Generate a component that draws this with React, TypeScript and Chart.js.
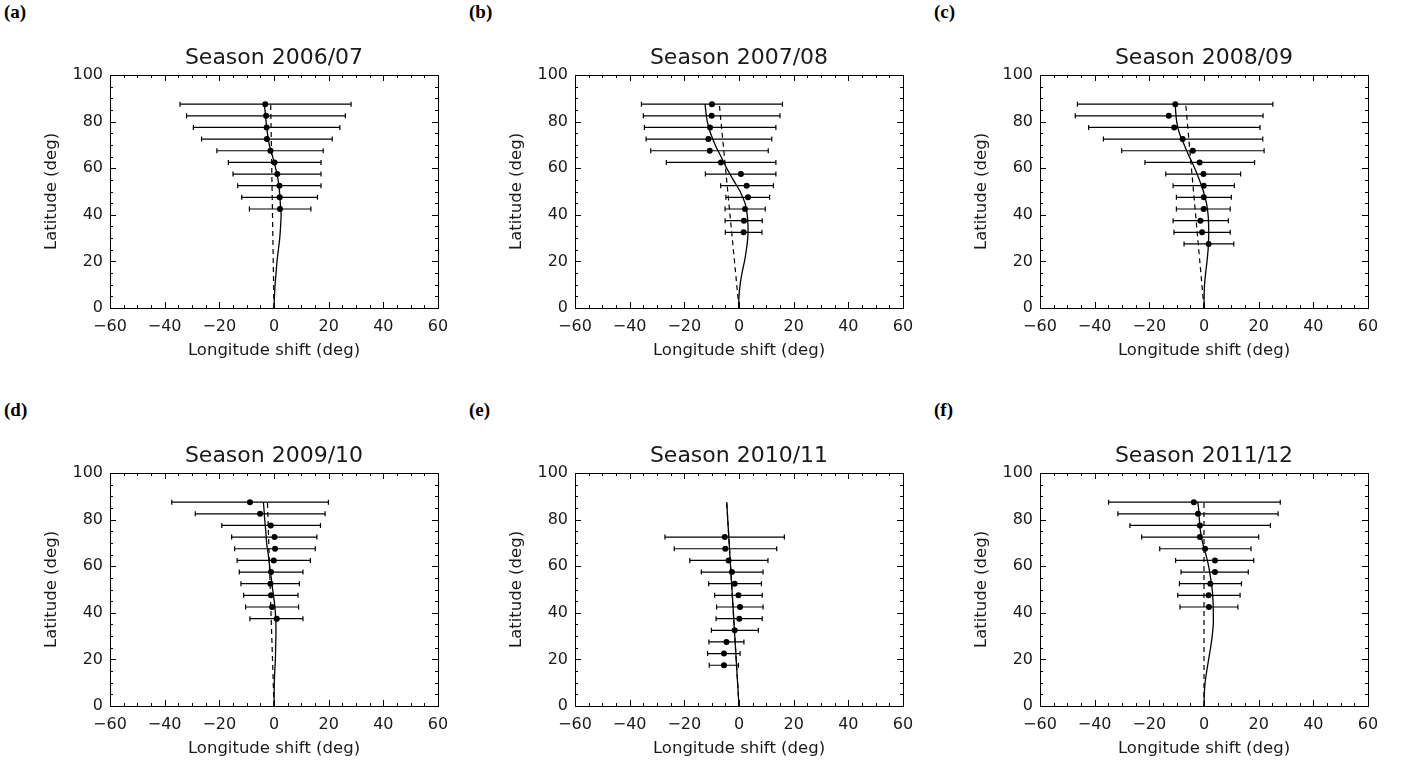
import React, { useEffect, useRef } from 'react';
import { Chart, registerables } from 'chart.js';

Chart.register(...registerables);

const FONT = "'DejaVu Sans', sans-serif";
const TEXT = '#1a1a1a';

const X_TICKS = [-60, -40, -20, 0, 20, 40, 60];
const Y_TICKS = [0, 20, 40, 60, 80, 100];
const TITLES = ['Season 2006/07', 'Season 2007/08', 'Season 2008/09', 'Season 2009/10', 'Season 2010/11', 'Season 2011/12'];
const LABELS = ['(a)', '(b)', '(c)', '(d)', '(e)', '(f)'];
const X_TITLE = 'Longitude shift (deg)';
const Y_TITLE = 'Latitude (deg)';

// (a) 2006/07
const LAT_A = [87.5, 82.5, 77.5, 72.5, 67.5, 62.5, 57.5, 52.5, 47.5, 42.5];
const SHIFT_A = [-3.2, -2.9, -2.7, -2.6, -1.3, 0.2, 1.2, 2.0, 2.1, 2.2];
const LOW_A = [-34.4, -32.0, -29.5, -26.5, -20.9, -16.7, -15.0, -13.3, -11.8, -9.0];
const HIGH_A = [28.2, 26.1, 24.1, 21.3, 18.0, 17.2, 17.2, 17.2, 15.9, 13.5];

// (b) 2007/08
const LAT_B = [87.5, 82.5, 77.5, 72.5, 67.5, 62.5, 57.5, 52.5, 47.5, 42.5, 37.5, 32.5];
const SHIFT_B = [-9.9, -10.0, -10.6, -11.2, -10.7, -6.6, 0.7, 2.8, 3.3, 2.2, 1.8, 1.7];
const LOW_B = [-35.7, -35.0, -34.6, -34.0, -32.3, -26.6, -12.3, -6.7, -4.8, -5.1, -5.1, -5.0];
const HIGH_B = [15.9, 15.0, 13.5, 12.0, 10.7, 13.5, 13.5, 12.6, 11.2, 9.6, 8.5, 8.4];

// (c) 2008/09
const LAT_C = [87.5, 82.5, 77.5, 72.5, 67.5, 62.5, 57.5, 52.5, 47.5, 42.5, 37.5, 32.5, 27.5];
const SHIFT_C = [-10.5, -12.9, -10.9, -7.8, -4.1, -1.6, -0.2, -0.1, -0.1, -0.1, -1.3, -0.7, 1.7];
const LOW_C = [-46.3, -47.1, -42.2, -36.8, -30.1, -21.6, -14.0, -11.3, -10.1, -10.1, -11.3, -11.0, -7.3];
const HIGH_C = [25.2, 21.6, 20.5, 21.5, 22.0, 18.5, 13.4, 11.1, 10.0, 9.6, 8.9, 9.6, 10.9];

// (d) 2009/10
const LAT_D = [87.5, 82.5, 77.5, 72.5, 67.5, 62.5, 57.5, 52.5, 47.5, 42.5, 37.5];
const SHIFT_D = [-8.8, -5.1, -1.2, 0.2, 0.4, -0.1, -1.1, -1.3, -1.1, -0.7, 1.0];
const LOW_D = [-37.4, -28.8, -19.1, -15.5, -14.4, -13.5, -12.7, -12.1, -11.1, -10.4, -8.8];
const HIGH_D = [19.9, 18.7, 17.0, 15.7, 15.1, 13.3, 10.6, 9.3, 8.8, 9.0, 10.6];

// (e) 2010/11
const LAT_E = [72.5, 67.5, 62.5, 57.5, 52.5, 47.5, 42.5, 37.5, 32.5, 27.5, 22.5, 17.5];
const SHIFT_E = [-5.2, -5.0, -3.8, -2.6, -1.6, -0.2, 0.4, 0.1, -1.6, -4.6, -5.5, -5.5];
const LOW_E = [-27.1, -23.7, -18.0, -13.8, -11.1, -8.9, -8.2, -8.4, -10.1, -11.0, -11.5, -10.9];
const HIGH_E = [16.6, 13.8, 10.6, 8.8, 8.2, 8.5, 8.8, 8.5, 7.1, 1.8, 0.4, -0.2];

// (f) 2011/12
const LAT_F = [87.5, 82.5, 77.5, 72.5, 67.5, 62.5, 57.5, 52.5, 47.5, 42.5];
const SHIFT_F = [-3.7, -2.2, -1.5, -1.5, 0.4, 4.0, 4.0, 2.3, 1.7, 1.8];
const LOW_F = [-34.9, -31.5, -27.1, -22.8, -16.2, -10.4, -8.4, -9.0, -9.6, -8.8];
const HIGH_F = [27.9, 27.1, 24.3, 20.0, 17.2, 18.2, 16.2, 13.7, 13.2, 12.4];

// fitted (solid) curves
const CURVE_LAT = [0, 5, 10, 15, 20, 25, 30, 35, 40, 45, 50, 55, 60, 65, 70, 75, 80, 85, 87.5];
const CURVE_A = [0, 0.15, 0.4, 0.75, 1.1, 1.6, 2.1, 2.4, 2.6, 2.3, 2.0, 1.5, 0.6, -0.5, -1.7, -2.4, -2.9, -3.3, -3.7];
const CURVE_B = [-0.1, 0, 0.4, 1.1, 2.0, 2.7, 3.2, 3.3, 3.0, 2.2, 0.4, -2.1, -4.5, -6.6, -8.7, -10.4, -11.6, -12.2, -12.4];
const CURVE_C = [0, 0.05, 0.2, 0.6, 1.1, 1.5, 1.7, 1.7, 1.5, 0.9, -0.2, -1.7, -3.4, -5.4, -7.2, -9.0, -10.0, -10.4, -10.5];
const CURVE_D = [0, 0.05, 0.1, 0.3, 0.5, 0.6, 0.7, 0.7, 0.5, 0.1, -0.5, -1.0, -1.6, -2.1, -2.7, -3.0, -3.4, -3.7, -3.9];
const CURVE_LAT_E = [0, 87.5];
const CURVE_E = [0, -4.5];
const CURVE_F = [0, 0.1, 0.4, 1.0, 1.7, 2.4, 3.0, 3.4, 3.4, 3.3, 3.0, 2.4, 1.7, 0.7, -0.5, -1.3, -1.7, -2.0, -2.3];

// reference (dashed) lines
const DASH_LAT = [0, 87.5];
const DASH_A = [0, -1.2];
const DASH_B = [0, -7.2];
const DASH_C = [0, -6.7];
const DASH_D = [0, -2.4];
const DASH_E = [0, -4.5];
const DASH_F = [0, 0];

type PanelCfg = {
  title: string; label: string;
  lat: number[]; shift: number[]; low: number[]; high: number[];
  curveLat: number[]; curve: number[]; dash: number[];
  left: number; top: number;
};

const COLS = [110, 575, 1040];
const ROWS = [75, 473];
const PLOT_W = 328;
const PLOT_H = 233;
const Y_AXIS_W = 70;
const X_AXIS_H = 56;
const TITLE_H = 32;
const PAD_R = 22;

const SERIES = [
  [LAT_A, SHIFT_A, LOW_A, HIGH_A, CURVE_LAT, CURVE_A, DASH_A],
  [LAT_B, SHIFT_B, LOW_B, HIGH_B, CURVE_LAT, CURVE_B, DASH_B],
  [LAT_C, SHIFT_C, LOW_C, HIGH_C, CURVE_LAT, CURVE_C, DASH_C],
  [LAT_D, SHIFT_D, LOW_D, HIGH_D, CURVE_LAT, CURVE_D, DASH_D],
  [LAT_E, SHIFT_E, LOW_E, HIGH_E, CURVE_LAT_E, CURVE_E, DASH_E],
  [LAT_F, SHIFT_F, LOW_F, HIGH_F, CURVE_LAT, CURVE_F, DASH_F],
];

const PANELS: PanelCfg[] = SERIES.map((s, i) => ({
  title: TITLES[i], label: LABELS[i],
  lat: s[0], shift: s[1], low: s[2], high: s[3], curveLat: s[4], curve: s[5], dash: s[6],
  left: COLS[i % 3], top: ROWS[Math.floor(i / 3)],
}));

function Panel({ cfg }: { cfg: PanelCfg }) {
  const ref = useRef<HTMLCanvasElement | null>(null);
  const W = Y_AXIS_W + PLOT_W + PAD_R;
  const H = TITLE_H + PLOT_H + X_AXIS_H;

  useEffect(() => {
    if (!ref.current) return;
    const errBars = {
      id: 'errBars',
      beforeDatasetsDraw(chart: any) {
        const { ctx, scales } = chart;
        const xs = scales.x, ys = scales.y;
        ctx.save();
        ctx.strokeStyle = '#000';
        ctx.lineWidth = 1.2;
        cfg.lat.forEach((lat, i) => {
          const py = ys.getPixelForValue(lat);
          const x1 = xs.getPixelForValue(cfg.low[i]);
          const x2 = xs.getPixelForValue(cfg.high[i]);
          ctx.beginPath();
          ctx.moveTo(x1, py); ctx.lineTo(x2, py);
          ctx.moveTo(x1, py - 2.5); ctx.lineTo(x1, py + 2.5);
          ctx.moveTo(x2, py - 2.5); ctx.lineTo(x2, py + 2.5);
          ctx.stroke();
        });
        ctx.restore();
      },
    };
    const frame = {
      id: 'frameTicks',
      afterDraw(chart: any) {
        const { ctx, chartArea: a, scales } = chart;
        const xs = scales.x, ys = scales.y;
        ctx.save();
        ctx.strokeStyle = '#000';
        ctx.lineWidth = 1;
        ctx.strokeRect(Math.round(a.left) + 0.5, Math.round(a.top) + 0.5, Math.round(a.right - a.left), Math.round(a.bottom - a.top));
        ctx.beginPath();
        for (let v = xs.min; v <= xs.max + 1e-9; v += 5) {
          const px = Math.round(xs.getPixelForValue(v)) + 0.5;
          const len = X_TICKS.includes(v) ? 6 : 3;
          ctx.moveTo(px, a.bottom); ctx.lineTo(px, a.bottom - len);
          ctx.moveTo(px, a.top); ctx.lineTo(px, a.top + len);
        }
        for (let v = ys.min; v <= ys.max + 1e-9; v += 5) {
          const py = Math.round(ys.getPixelForValue(v)) + 0.5;
          const len = Y_TICKS.includes(v) ? 6 : 3;
          ctx.moveTo(a.left, py); ctx.lineTo(a.left + len, py);
          ctx.moveTo(a.right, py); ctx.lineTo(a.right - len, py);
        }
        ctx.stroke();
        ctx.restore();
      },
    };

    const chart = new Chart(ref.current, {
      type: 'scatter',
      data: {
        datasets: [
          {
            data: cfg.curveLat.map((y, i) => ({ x: cfg.curve[i], y })),
            showLine: true,
            borderColor: '#000',
            borderWidth: 1.3,
            pointRadius: 0,
            tension: 0.35,
          },
          {
            data: DASH_LAT.map((y, i) => ({ x: cfg.dash[i], y })),
            showLine: true,
            borderColor: '#000',
            borderWidth: 1.2,
            borderDash: [5, 4],
            pointRadius: 0,
          },
          {
            data: cfg.lat.map((y, i) => ({ x: cfg.shift[i], y })),
            showLine: false,
            pointRadius: 3,
            pointHoverRadius: 3,
            backgroundColor: '#000',
            borderColor: '#000',
            borderWidth: 0,
          },
        ],
      },
      options: {
        responsive: false,
        animation: false,
        events: [],
        layout: { padding: { left: 0, right: PAD_R, top: 0, bottom: 0 }, autoPadding: false },
        plugins: {
          legend: { display: false },
          tooltip: { enabled: false },
          title: {
            display: true,
            fullSize: false,
            text: cfg.title,
            color: TEXT,
            font: { family: FONT, size: 22, weight: 'normal', lineHeight: 1 },
            padding: { top: 4, bottom: 6 },
          },
        },
        scales: {
          x: {
            type: 'linear',
            min: -60,
            max: 60,
            afterFit: (s: any) => { s.height = X_AXIS_H; },
            afterBuildTicks: (s: any) => { s.ticks = X_TICKS.map((value) => ({ value })); },
            ticks: {
              padding: 9,
              color: TEXT,
              font: { family: FONT, size: 16 },
              maxRotation: 0,
              autoSkip: false,
              callback: (v: any) => String(v).replace('-', '\u2212'),
            },
            grid: { display: false, drawTicks: false, tickLength: 0 },
            border: { display: false },
            title: {
              display: true,
              text: X_TITLE,
              color: TEXT,
              font: { family: FONT, size: 16.5 },
              padding: { top: 0, bottom: 3 },
            },
          },
          y: {
            type: 'linear',
            min: 0,
            max: 100,
            afterFit: (s: any) => { s.width = Y_AXIS_W; },
            afterBuildTicks: (s: any) => { s.ticks = Y_TICKS.map((value) => ({ value })); },
            ticks: {
              padding: 7,
              color: TEXT,
              font: { family: FONT, size: 16 },
              autoSkip: false,
            },
            grid: { display: false, drawTicks: false, tickLength: 0 },
            border: { display: false },
            title: {
              display: true,
              text: Y_TITLE,
              color: TEXT,
              font: { family: FONT, size: 16.5 },
              padding: { top: 2, bottom: 0 },
            },
          },
        },
      },
      plugins: [errBars, frame],
    } as any);
    return () => chart.destroy();
  }, [cfg]);

  return (
    <canvas
      ref={ref}
      width={W}
      height={H}
      style={{ position: 'absolute', left: cfg.left - Y_AXIS_W, top: cfg.top - TITLE_H, width: W, height: H }}
    />
  );
}

export default function App() {
  return (
    <div style={{ position: 'fixed', left: 0, top: 0, width: 1402, height: 762, background: '#fff', overflow: 'hidden' }}>
      {PANELS.map((p, i) => (
        <div
          key={'lab' + i}
          style={{
            position: 'absolute',
            left: 4 + (i % 3) * 465,
            top: 1 + Math.floor(i / 3) * 398,
            fontFamily: "'Liberation Serif', serif",
            fontWeight: 'bold',
            fontSize: 19,
            lineHeight: '22px',
            color: '#000',
          }}
        >
          {p.label}
        </div>
      ))}
      {PANELS.map((p, i) => (
        <Panel key={i} cfg={p} />
      ))}
    </div>
  );
}
